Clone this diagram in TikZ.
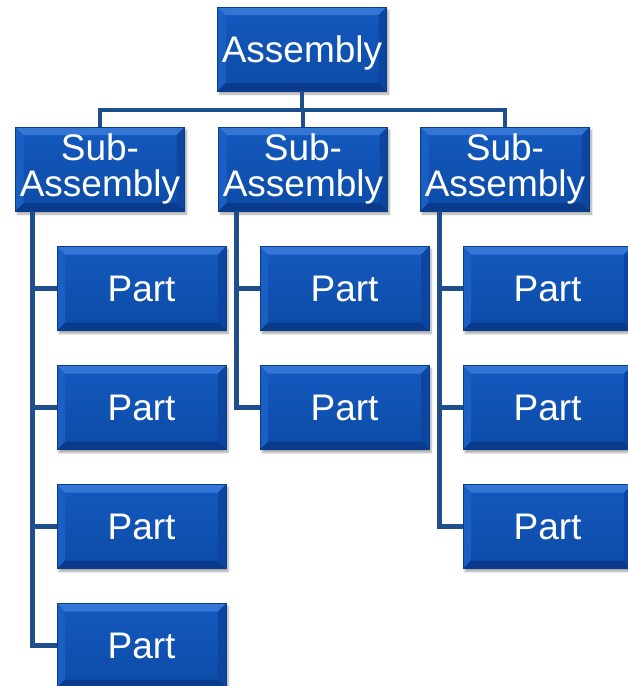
\documentclass[tikz,border=0pt]{standalone}
\usepackage{fontspec}
\setmainfont{Liberation Sans}
\usetikzlibrary{shadows.blur}

\definecolor{boxmid}{RGB}{14,84,186}
\definecolor{boxtop}{RGB}{52,118,214}
\definecolor{boxleft}{RGB}{26,96,196}
\definecolor{boxright}{RGB}{12,70,160}
\definecolor{boxbot}{RGB}{9,58,140}
\definecolor{boxedge}{RGB}{10,60,140}
\definecolor{wire}{RGB}{31,78,140}

\tikzset{
  blk/.style={
    rectangle, inner sep=0pt, minimum width=169pt, minimum height=84pt,
    draw=boxedge, line width=0.5pt, text=white,
    top color=boxmid!85!boxtop, bottom color=boxmid!90!black,
    font=\fontsize{37}{36}\selectfont, align=center,
    blur shadow={shadow xshift=2pt, shadow yshift=-3pt, shadow opacity=35, shadow blur steps=6},
    path picture={
      \fill[boxtop] (path picture bounding box.north west) -- (path picture bounding box.north east)
        -- ([xshift=-8pt,yshift=-8pt]path picture bounding box.north east)
        -- ([xshift=8pt,yshift=-8pt]path picture bounding box.north west) -- cycle;
      \fill[boxleft] (path picture bounding box.north west) -- ([xshift=8pt,yshift=-8pt]path picture bounding box.north west)
        -- ([xshift=8pt,yshift=8pt]path picture bounding box.south west)
        -- (path picture bounding box.south west) -- cycle;
      \fill[boxright] (path picture bounding box.north east) -- ([xshift=-8pt,yshift=-8pt]path picture bounding box.north east)
        -- ([xshift=-8pt,yshift=8pt]path picture bounding box.south east)
        -- (path picture bounding box.south east) -- cycle;
      \fill[boxbot] (path picture bounding box.south west) -- (path picture bounding box.south east)
        -- ([xshift=-8pt,yshift=8pt]path picture bounding box.south east)
        -- ([xshift=8pt,yshift=8pt]path picture bounding box.south west) -- cycle;
    }
  },
  wirestyle/.style={draw=wire, line width=4.5pt, line join=miter}
}

\begin{document}
\begin{tikzpicture}[x=1pt,y=-1pt]
\useasboundingbox (0,0) rectangle (628,686);

% top level
\node[blk, text depth=0pt] (asm) at (302,49) {Assembly};

% sub-assemblies
\node[blk] (s1) at (100,169) {Sub-\\Assembly};
\node[blk] (s2) at (303,169) {Sub-\\Assembly};
\node[blk] (s3) at (505,169) {Sub-\\Assembly};

% parts, left column
\node[blk] (p11) at (141.5,288.5) {Part};
\node[blk] (p12) at (141.5,407.5) {Part};
\node[blk] (p13) at (141.5,526.5) {Part};
\node[blk] (p14) at (141.5,645.5) {Part};
% parts, middle column
\node[blk] (p21) at (344.5,288.5) {Part};
\node[blk] (p22) at (344.5,407.5) {Part};
% parts, right column
\node[blk] (p31) at (547.5,288.5) {Part};
\node[blk] (p32) at (547.5,407.5) {Part};
\node[blk] (p33) at (547.5,526.5) {Part};

% bus below the assembly
\coordinate (hub) at (302,110);
\draw[wirestyle] (asm.south) -- (hub);
\draw[wirestyle] (hub) -| (s1.north);
\draw[wirestyle] (hub) -| (s3.north);
\draw[wirestyle] (hub) -| (s2.north);

% branches from each sub-assembly to its parts
\coordinate (t1) at ([xshift=17pt]s1.south west);
\coordinate (t2) at ([xshift=18pt]s2.south west);
\coordinate (t3) at ([xshift=19pt]s3.south west);
\foreach \p in {p11,p12,p13,p14} \draw[wirestyle] (t1) |- (\p.west);
\foreach \p in {p21,p22} \draw[wirestyle] (t2) |- (\p.west);
\foreach \p in {p31,p32,p33} \draw[wirestyle] (t3) |- (\p.west);
\end{tikzpicture}
\end{document}
